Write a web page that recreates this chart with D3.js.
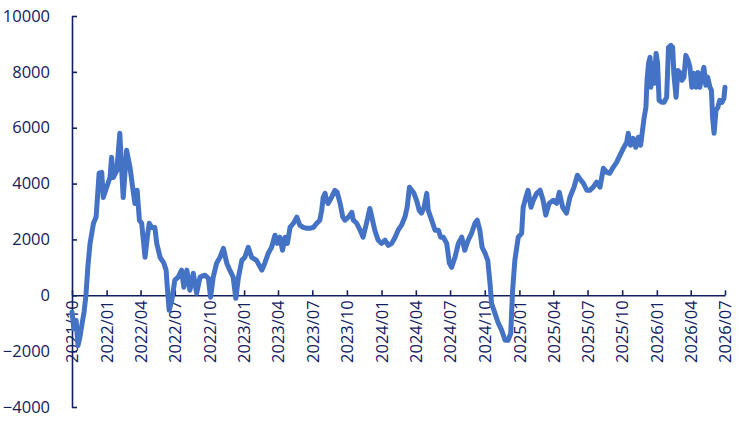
<!DOCTYPE html>
<html>
<head>
<meta charset="utf-8">
<script src="https://cdn.jsdelivr.net/npm/d3@7"></script>
<style>
  body { margin: 0; background: #fff; }
  .axis text { font-family: "Open Sans", sans-serif; font-size: 16.5px; fill: #132060; }
  .axis path, .axis line { stroke: #132060; stroke-width: 1.6; }
</style>
</head>
<body>
<div class="canvas"></div>
<script>
const dates = [
  '2021-10-01','2021-10-06','2021-10-12','2021-10-17','2021-10-22','2021-10-28','2021-11-02','2021-11-07','2021-11-12',
  '2021-11-18','2021-11-27','2021-12-04','2021-12-12','2021-12-19','2021-12-23',
  '2022-01-01','2022-01-10','2022-01-14','2022-01-19','2022-01-28','2022-02-05','2022-02-10','2022-02-14','2022-02-23',
  '2022-03-04','2022-03-11','2022-03-17','2022-03-23','2022-03-29','2022-04-04','2022-04-13','2022-04-19','2022-04-24',
  '2022-05-01','2022-05-09','2022-05-14','2022-05-23','2022-06-02','2022-06-08','2022-06-11','2022-06-16','2022-06-23',
  '2022-07-01','2022-07-10','2022-07-19','2022-07-25','2022-08-02','2022-08-10','2022-08-19','2022-08-28','2022-09-06',
  '2022-09-19','2022-09-28','2022-10-04','2022-10-11','2022-10-20','2022-10-29','2022-11-07','2022-11-16','2022-11-24',
  '2022-12-03','2022-12-10','2022-12-17','2022-12-26',
  '2023-01-03','2023-01-12','2023-01-21','2023-02-03','2023-02-17','2023-02-25','2023-03-06','2023-03-15','2023-03-24',
  '2023-03-30','2023-04-06','2023-04-13','2023-04-20','2023-04-26','2023-05-03','2023-05-12','2023-05-21','2023-05-29',
  '2023-06-07','2023-06-16','2023-06-25','2023-07-04','2023-07-13','2023-07-21','2023-07-26','2023-07-30','2023-08-04',
  '2023-08-08','2023-08-12','2023-08-21','2023-08-30','2023-09-05','2023-09-13','2023-09-20','2023-09-26','2023-10-05',
  '2023-10-14','2023-10-18','2023-10-27','2023-11-05','2023-11-13','2023-11-22','2023-12-01','2023-12-08','2023-12-14',
  '2023-12-23',
  '2024-01-01','2024-01-10','2024-01-19','2024-01-28','2024-02-06','2024-02-14','2024-02-23','2024-03-03','2024-03-09',
  '2024-03-15','2024-03-21','2024-03-27','2024-04-03','2024-04-10','2024-04-16','2024-04-23','2024-04-30','2024-05-04',
  '2024-05-13','2024-05-22','2024-05-31','2024-06-06','2024-06-13','2024-06-22','2024-06-29','2024-07-05','2024-07-14',
  '2024-07-23','2024-08-01','2024-08-09','2024-08-18','2024-08-27','2024-09-05','2024-09-11','2024-09-18','2024-09-24',
  '2024-10-02','2024-10-09','2024-10-15','2024-10-19','2024-10-28','2024-11-06','2024-11-15','2024-11-24','2024-12-02',
  '2024-12-09','2024-12-14','2024-12-20','2024-12-29',
  '2025-01-07','2025-01-11','2025-01-18','2025-01-24','2025-02-01','2025-02-07','2025-02-16','2025-02-25','2025-03-05',
  '2025-03-12','2025-03-21','2025-04-01','2025-04-10','2025-04-17','2025-04-26','2025-05-06','2025-05-15','2025-05-26',
  '2025-06-04','2025-06-13','2025-06-20','2025-06-29','2025-07-07','2025-07-16','2025-07-25','2025-08-03','2025-08-12',
  '2025-08-21','2025-08-29','2025-09-07','2025-09-16','2025-09-25','2025-10-04','2025-10-13','2025-10-17','2025-10-23',
  '2025-10-30','2025-11-06','2025-11-13','2025-11-19','2025-11-24','2025-11-28','2025-12-03','2025-12-06','2025-12-10',
  '2025-12-14','2025-12-16','2025-12-21','2025-12-25','2025-12-30',
  '2026-01-03','2026-01-07','2026-01-14','2026-01-20','2026-01-27','2026-02-01','2026-02-07','2026-02-12','2026-02-15',
  '2026-02-21','2026-02-26','2026-03-03','2026-03-09','2026-03-14','2026-03-19','2026-03-25','2026-03-30','2026-04-04',
  '2026-04-09','2026-04-15','2026-04-20','2026-04-25','2026-04-30','2026-05-06','2026-05-11','2026-05-16','2026-05-22',
  '2026-05-26','2026-05-29','2026-06-02','2026-06-07','2026-06-12','2026-06-17','2026-06-23','2026-06-28','2026-07-01'
];

const values = [
  -600,-1200,-900,-1800,-1500,-1000,-600,0,1000,
  1860,2580,2800,4370,4400,3500,
  3870,4220,4940,4220,4470,5800,4470,3500,5190,
  4580,3870,3290,3760,2690,2580,1360,2080,2580,
  2430,2430,1860,1360,1150,900,290,-540,-180,
  540,650,900,290,900,180,790,70,650,
  720,610,-70,650,1150,1360,1680,1150,900,
  650,-110,650,1250,
  1360,1720,1360,1250,900,1150,1500,1720,2150,
  1860,2080,1610,2080,1860,2430,2580,2800,2510,
  2430,2400,2400,2430,2580,2690,3040,3500,3650,
  3400,3290,3500,3760,3690,3290,2800,2690,2800,
  2970,2690,2580,2330,2080,2580,3110,2690,2330,
  1970,
  1860,1970,1790,1860,2080,2330,2510,2800,3150,
  3870,3760,3650,3400,3040,2940,3150,3650,3040,
  2690,2330,2330,2080,2080,1860,1150,1000,1360,
  1860,2080,1610,1970,2220,2580,2690,2330,1720,
  1500,1250,430,-290,-640,-1000,-1250,-1610,-1610,
  -1360,180,1250,2080,
  2220,3150,3500,3760,3150,3400,3650,3760,3400,
  2870,3290,3400,3290,3690,3150,2940,3500,3870,
  4300,4120,4010,3760,3760,3870,4050,3870,4550,
  4400,4370,4580,4760,5010,5260,5480,5800,5370,
  5620,5300,5660,5370,5910,6340,6730,7700,8310,
  8520,7450,8310,7590,8660,
  8310,6980,6910,6910,7090,8880,8950,8880,7950,
  7090,8050,7980,7700,7810,8590,8410,8160,7450,
  7950,7450,7980,7450,7810,8160,7520,7810,7450,
  7340,6370,5800,6620,6730,6980,6910,7050,7450
];

const yTicks = [-4000, -2000, 0, 2000, 4000, 6000, 8000, 10000];
const xStart = '2021-10-01';
const xEnd = '2026-07-01';

const width = 744, height = 422;
const margin = {top: 16, right: 19, bottom: 15, left: 72};

const parse = d3.timeParse('%Y-%m-%d');
const series = dates.map((d, i) => ({date: parse(d), value: values[i]}));

const svg = d3.select('.canvas')
  .append('svg')
  .attr('width', width)
  .attr('height', height)
  .style('background', '#fff');

const x = d3.scaleTime()
  .domain([parse(xStart), parse(xEnd)])
  .range([margin.left, width - margin.right]);

const y = d3.scaleLinear()
  .domain([-4000, 10000])
  .range([height - margin.bottom, margin.top]);

// y axis, ticks pointing into the plot
const yAxis = d3.axisLeft(y)
  .tickValues(yTicks)
  .tickFormat(d3.format('d'))
  .tickSizeInner(-5)
  .tickSizeOuter(0)
  .tickPadding(22);

svg.append('g')
  .attr('class', 'axis')
  .attr('transform', `translate(${margin.left},0)`)
  .call(yAxis);

// x axis sits on zero
const xAxis = d3.axisBottom(x)
  .ticks(d3.timeMonth.every(3))
  .tickFormat(d3.timeFormat('%Y/%m'))
  .tickSizeInner(-5)
  .tickSizeOuter(0);

const xg = svg.append('g')
  .attr('class', 'axis')
  .attr('transform', `translate(0,${y(0)})`)
  .call(xAxis);

xg.selectAll('text')
  .attr('transform', 'rotate(-90)')
  .attr('text-anchor', 'end')
  .attr('x', -5)
  .attr('y', 0)
  .attr('dy', '0.35em');

const line = d3.line()
  .x(d => x(d.date))
  .y(d => y(d.value));

svg.append('path')
  .datum(series)
  .attr('fill', 'none')
  .attr('stroke', '#4472C4')
  .attr('stroke-width', 5)
  .attr('stroke-linejoin', 'round')
  .attr('stroke-linecap', 'round')
  .attr('d', line);
</script>
</body>
</html>
